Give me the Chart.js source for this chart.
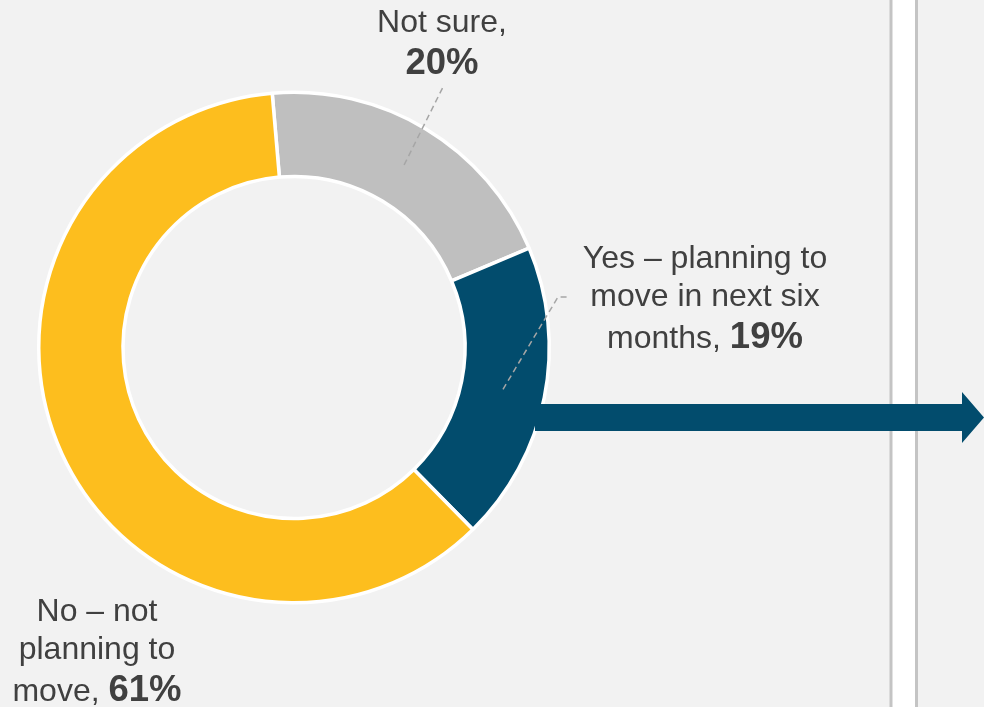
<!DOCTYPE html>
<html>
<head>
<meta charset="utf-8">
<title>Moving plans</title>
<script src="https://cdn.jsdelivr.net/npm/chart.js@4/dist/chart.umd.min.js"></script>
<style>
  html, body { margin: 0; padding: 0; background: #f2f2f2; }
  #wrap { width: 984px; height: 707px; }
</style>
</head>
<body>
<div id="wrap"><canvas id="moveChart" width="984" height="707"></canvas></div>
<script>
// answers, in clockwise order starting just left of 12 o'clock
const categories = ['Not sure', 'Yes – planning to move in next six months', 'No – not planning to move'];
const shares = [20, 19, 61];
const colors = ['#bfbfbf', '#024c6d', '#fdbe1e'];

// label text per slice; the share gets appended in bold to the last line
const labelLines = [
    ['Not sure,', ''],
    ['Yes – planning to', 'move in next six', 'months, '],
    ['No – not', 'planning to', 'move, ']
];

// where each label sits (centre x, first baseline) and where its leader ends
const labelSpots = [
    { x: 442, y: 32, leader: [[443, 87]] },
    { x: 705, y: 268, leader: [[558, 297], [569, 297]] },
    { x: 97, y: 621, leader: null }
];

const FONT = '"Liberation Sans", Arial, sans-serif';
const TEXT = '#404040';
const REG = 32, BIG = 36.5;

const backdrop = {
    id: 'backdrop',
    beforeDraw(chart) {
        const ctx = chart.ctx;
        ctx.save();
        ctx.fillStyle = '#f2f2f2';
        ctx.fillRect(0, 0, chart.width, chart.height);
        // divider strip on the right
        ctx.fillStyle = '#c4c4c4';
        ctx.fillRect(889.5, 0, 28.5, chart.height);
        ctx.fillStyle = '#ffffff';
        ctx.fillRect(892.5, 0, 22.5, chart.height);
        ctx.restore();
    }
};

const arrow = {
    id: 'arrow',
    afterDatasetsDraw(chart) {
        const ctx = chart.ctx;
        ctx.save();
        ctx.fillStyle = colors[1];
        ctx.beginPath();
        ctx.moveTo(535, 404);
        ctx.lineTo(962, 404);
        ctx.lineTo(962, 392);
        ctx.lineTo(984, 417.5);
        ctx.lineTo(962, 443);
        ctx.lineTo(962, 431);
        ctx.lineTo(535, 431);
        ctx.closePath();
        ctx.fill();
        ctx.restore();
    }
};

const sliceLabels = {
    id: 'sliceLabels',
    afterDraw(chart) {
        const ctx = chart.ctx;
        const arcs = chart.getDatasetMeta(0).data;
        ctx.save();
        arcs.forEach((arc, i) => {
            const spot = labelSpots[i];
            // dashed leader from the middle of the ring
            if (spot.leader) {
                const p = arc.getCenterPoint();
                ctx.strokeStyle = '#a6a6a6';
                ctx.lineWidth = 1.5;
                ctx.setLineDash([6, 4]);
                ctx.beginPath();
                ctx.moveTo(p.x, p.y);
                spot.leader.forEach(([x, y]) => ctx.lineTo(x, y));
                ctx.stroke();
                ctx.setLineDash([]);
            }
            const lines = labelLines[i];
            let y = spot.y;
            lines.forEach((txt, k) => {
                const last = k === lines.length - 1;
                const pct = last ? shares[i] + '%' : '';
                ctx.font = REG + 'px ' + FONT;
                const w1 = ctx.measureText(txt).width;
                ctx.font = 'bold ' + BIG + 'px ' + FONT;
                const w2 = pct ? ctx.measureText(pct).width : 0;
                let x = spot.x - (w1 + w2) / 2;
                ctx.fillStyle = TEXT;
                ctx.textAlign = 'left';
                ctx.textBaseline = 'alphabetic';
                ctx.font = REG + 'px ' + FONT;
                ctx.fillText(txt, x, y);
                if (pct) {
                    ctx.font = 'bold ' + BIG + 'px ' + FONT;
                    ctx.fillText(pct, x + w1, y);
                }
                if (k + 1 < lines.length) {
                    const nextBig = k + 1 === lines.length - 1;
                    y += nextBig ? 42 : 37.5;
                }
            });
        });
        ctx.restore();
    }
};

new Chart(document.getElementById('moveChart'), {
    type: 'doughnut',
    data: {
        labels: categories,
        datasets: [{
            data: shares,
            backgroundColor: colors,
            borderColor: '#ffffff',
            borderWidth: 3.5
        }]
    },
    options: {
        responsive: false,
        animation: false,
        rotation: -4.9,
        cutout: '67%',
        layout: { padding: { left: 37, right: 433, top: 90, bottom: 102 } },
        plugins: {
            legend: { display: false },
            tooltip: { enabled: false }
        }
    },
    plugins: [backdrop, arrow, sliceLabels]
});
</script>
</body>
</html>
